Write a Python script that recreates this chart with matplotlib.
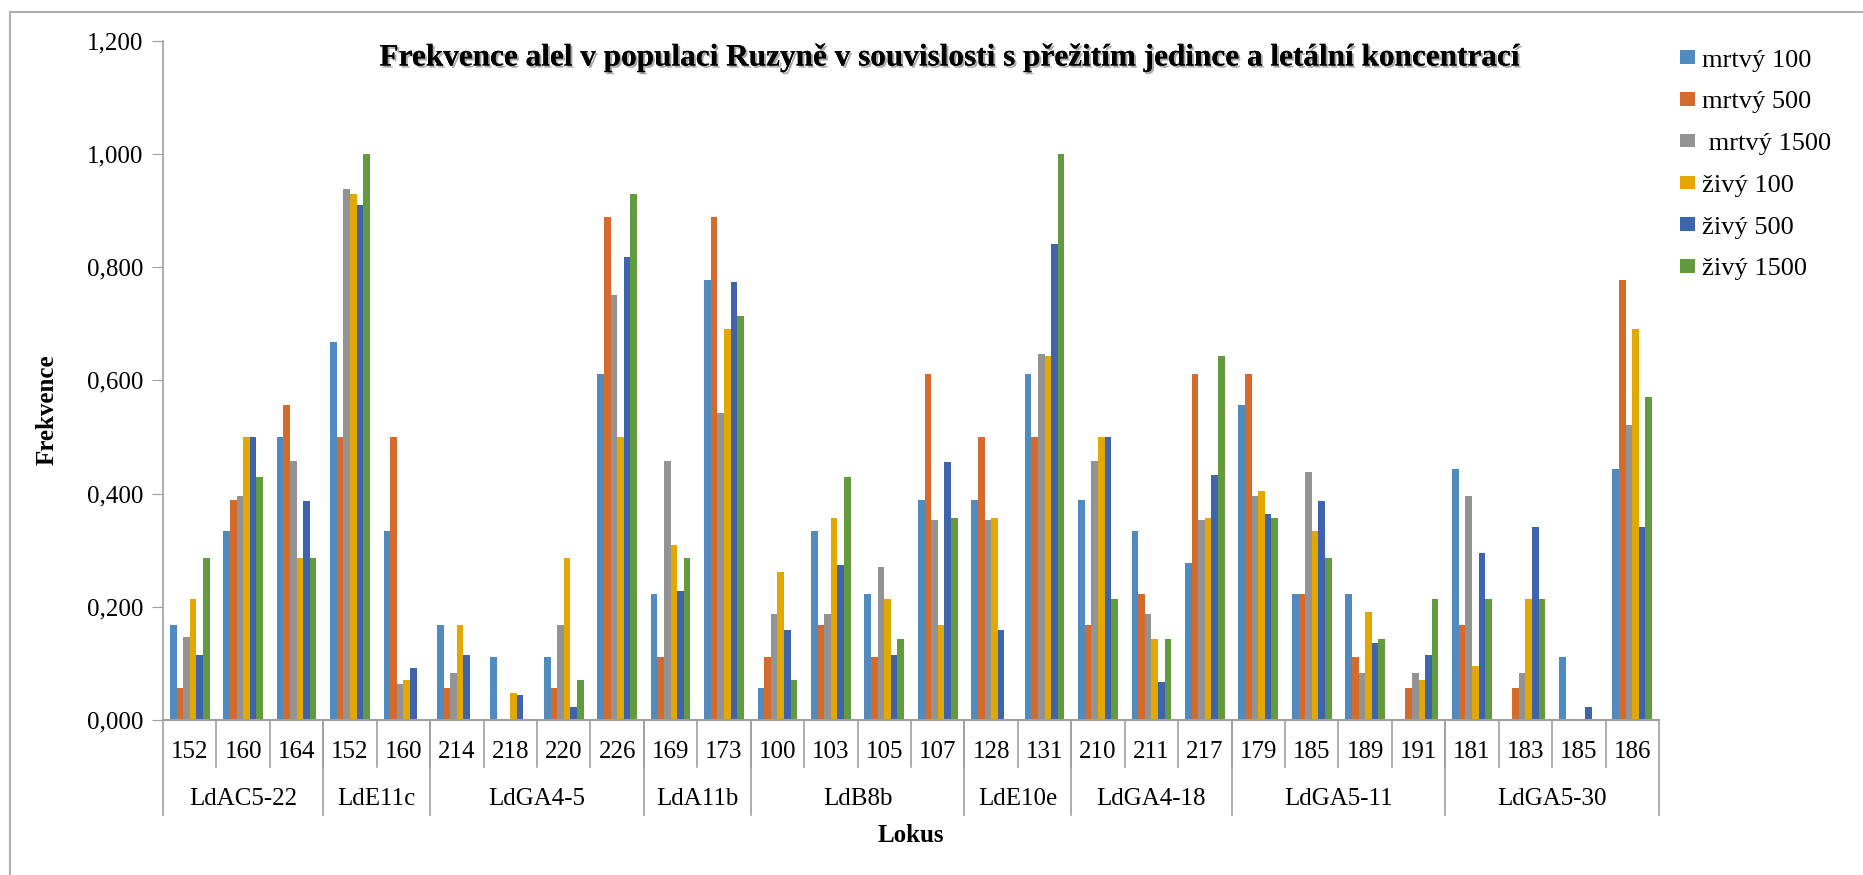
import numpy as np
import matplotlib
matplotlib.use("Agg")
import matplotlib.pyplot as plt
import matplotlib.patheffects as pe
from matplotlib.patches import Patch, Rectangle

plt.rcParams['font.family'] = ['Liberation Serif', 'DejaVu Serif']

# loci and their alleles
loci = ["LdAC5-22", "LdE11c", "LdGA4-5", "LdA11b", "LdB8b",
        "LdE10e", "LdGA4-18", "LdGA5-11", "LdGA5-30"]
alleles = [["152", "160", "164"], ["152", "160"], ["214", "218", "220", "226"],
           ["169", "173"], ["100", "103", "105", "107"], ["128", "131"],
           ["210", "211", "217"], ["179", "185", "189", "191"],
           ["181", "183", "185", "186"]]

series_names = ["mrtvý 100", "mrtvý 500", " mrtvý 1500", "živý 100", "živý 500", "živý 1500"]
colors = ["#4f8bc0", "#d46b2c", "#939393", "#e2a800", "#3e64ae", "#629a3e"]

mrtvy_100 = [0.167, 0.333, 0.500, 0.667, 0.333, 0.167, 0.111, 0.111, 0.611, 0.222,
             0.778, 0.056, 0.333, 0.222, 0.389, 0.389, 0.611, 0.389, 0.333, 0.278,
             0.556, 0.222, 0.222, 0.0, 0.444, 0.0, 0.111, 0.444]
mrtvy_500 = [0.056, 0.389, 0.556, 0.500, 0.500, 0.056, 0.0, 0.056, 0.889, 0.111,
             0.889, 0.111, 0.167, 0.111, 0.611, 0.500, 0.500, 0.167, 0.222, 0.611,
             0.611, 0.222, 0.111, 0.056, 0.167, 0.056, 0.0, 0.778]
mrtvy_1500 = [0.146, 0.396, 0.458, 0.938, 0.063, 0.083, 0.0, 0.167, 0.750, 0.458,
              0.542, 0.188, 0.188, 0.271, 0.354, 0.354, 0.646, 0.458, 0.188, 0.354,
              0.396, 0.438, 0.083, 0.083, 0.396, 0.083, 0.0, 0.521]
zivy_100 = [0.214, 0.500, 0.286, 0.929, 0.071, 0.167, 0.048, 0.286, 0.500, 0.310,
            0.690, 0.262, 0.357, 0.214, 0.167, 0.357, 0.643, 0.500, 0.143, 0.357,
            0.405, 0.333, 0.190, 0.071, 0.095, 0.214, 0.0, 0.690]
zivy_500 = [0.114, 0.500, 0.386, 0.909, 0.091, 0.114, 0.045, 0.023, 0.818, 0.227,
            0.773, 0.159, 0.273, 0.114, 0.455, 0.159, 0.841, 0.500, 0.068, 0.432,
            0.364, 0.386, 0.136, 0.114, 0.295, 0.341, 0.023, 0.341]
zivy_1500 = [0.286, 0.429, 0.286, 1.000, 0.0, 0.0, 0.0, 0.071, 0.929, 0.286,
             0.714, 0.071, 0.429, 0.143, 0.357, 0.0, 1.000, 0.214, 0.143, 0.643,
             0.357, 0.286, 0.143, 0.214, 0.214, 0.214, 0.0, 0.571]

series = [mrtvy_100, mrtvy_500, mrtvy_1500, zivy_100, zivy_500, zivy_1500]

W, H = 1863, 875
fig = plt.figure(figsize=(W / 100, H / 100), dpi=100)
ax = fig.add_axes([163 / W, 1 - 720 / H, (1659 - 163) / W, (720 - 40.7) / H])

# outer chart border (open to the right and bottom, as in the source)
fig.patches.append(Rectangle((10 / W, -0.1), 1.2, 1 - 12 / H + 0.1, transform=fig.transFigure,
                             fill=False, edgecolor="#b0b0b0", linewidth=1.5))

n = len(mrtvy_100)
x = np.arange(n)
bw = 0.1236
for i, (vals, c) in enumerate(zip(series, colors)):
    ax.bar(x + (i - 2.5) * bw, vals, width=bw, color=c, label=series_names[i])

ax.set_xlim(-0.5, n - 0.5)
ax.set_ylim(0, 1.2)
ax.set_yticks(np.arange(0, 1.21, 0.2))
ax.set_yticklabels([f"{v:.3f}".replace(".", ",") for v in np.arange(0, 1.21, 0.2)], fontsize=18)
ax.tick_params(axis="y", length=8, color="#a0a0a0", pad=6)
ax.set_xticks([])
for s in ["top", "right"]:
    ax.spines[s].set_visible(False)
ax.spines["left"].set_color("#a0a0a0")
ax.spines["bottom"].set_color("#a0a0a0")
ax.spines["left"].set_linewidth(1.2)
ax.spines["bottom"].set_linewidth(1.5)

# two-level category axis
tr = ax.get_xaxis_transform()
ax_h = 720 - 40.7
y_al_line = -47 / ax_h
y_grp_line = -95 / ax_h
y_al_txt = -32 / ax_h
y_grp_txt = -79 / ax_h
labels = [a for grp in alleles for a in grp]
for k, lab in enumerate(labels):
    ax.text(k, y_al_txt, lab, transform=tr, ha="center", va="center", fontsize=18)
for k in range(1, n):
    ax.plot([k - 0.5, k - 0.5], [0, y_al_line], transform=tr, color="#a0a0a0",
            linewidth=1.2, clip_on=False)
start = 0
bounds = [-0.5]
for name, grp in zip(loci, alleles):
    mid = start + (len(grp) - 1) / 2
    ax.text(mid, y_grp_txt, name, transform=tr, ha="center", va="center", fontsize=18)
    start += len(grp)
    bounds.append(start - 0.5)
for b in bounds:
    ax.plot([b, b], [0, y_grp_line], transform=tr, color="#a0a0a0", linewidth=1.2, clip_on=False)

fig.text(911 / W, 1 - 835 / H, "Lokus", ha="center", va="center", fontsize=18, fontweight="bold")
fig.text(47 / W, 1 - 410 / H, "Frekvence", ha="center", va="center", rotation=90,
         fontsize=18, fontweight="bold")

fig.text(950 / W, 1 - 58 / H,
         "Frekvence alel v populaci Ruzyně v souvislosti s přežitím jedince a letální koncentrací",
         ha="center", va="center", fontsize=22.5, fontweight="bold",
         path_effects=[pe.withSimplePatchShadow(offset=(1.5, -1.5), shadow_rgbFace="#555555", alpha=0.5),
                       pe.Normal()])

handles = [Patch(facecolor=c, edgecolor="none") for c in colors]
fig.legend(handles, series_names, loc="upper left", bbox_to_anchor=(1680 / W, 1 - 49.5 / H),
           frameon=False, fontsize=19, handlelength=0.55, handleheight=0.42,
           handletextpad=0.3, labelspacing=0.75, borderpad=0, borderaxespad=0)

fig.savefig("out.png", dpi=100)
